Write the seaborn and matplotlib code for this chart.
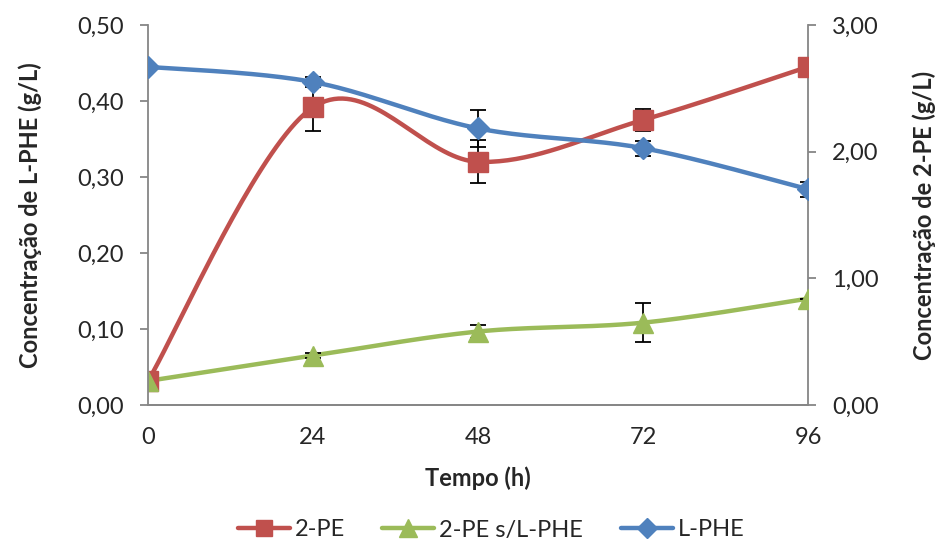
import numpy as np
import seaborn as sns
import matplotlib.pyplot as plt

# tempo (h)
tempo = [0, 24, 48, 72, 96]

# 2-PE (g/L) - eixo direito
pe = [0.19, 2.35, 1.92, 2.25, 2.67]
pe_err = [0.0, 0.19, 0.17, 0.09, 0.0]

# 2-PE sem L-PHE (g/L) - eixo direito
pe_sem = [0.19, 0.39, 0.58, 0.65, 0.84]
pe_sem_err = [0.0, 0.02, 0.05, 0.155, 0.0]

# L-PHE (g/L) - eixo esquerdo
lphe = [0.445, 0.425, 0.364, 0.338, 0.284]
lphe_err = [0.0, 0.006, 0.024, 0.010, 0.010]

left_ticks = [0.0, 0.1, 0.2, 0.3, 0.4, 0.5]
right_ticks = [0, 1, 2, 3]

RED = "#C0504D"
GREEN = "#9BBB59"
BLUE = "#4F81BD"
GREY = "#868686"


def smooth(x, y, n=40):
    # curva suavizada tipo Excel (Bezier / Catmull-Rom)
    p = np.column_stack([x, y]).astype(float)
    p = np.vstack([p[0], p, p[-1]])
    t = np.linspace(0, 1, n)[:, None]
    segs = []
    for i in range(1, len(p) - 2):
        p0, p1, p2, p3 = p[i - 1], p[i], p[i + 1], p[i + 2]
        c1 = p1 + (p2 - p0) / 6
        c2 = p2 - (p3 - p1) / 6
        segs.append((1 - t) ** 3 * p1 + 3 * (1 - t) ** 2 * t * c1
                    + 3 * (1 - t) * t ** 2 * c2 + t ** 3 * p2)
    s = np.vstack(segs)
    return s[:, 0], s[:, 1]


sns.set_style("white")
plt.rcParams['font.family'] = ['Lato', 'DejaVu Sans']

fig, ax = plt.subplots(figsize=(9.38, 5.45), dpi=100)
fig.subplots_adjust(left=148 / 938, right=808 / 938, top=1 - 25 / 545, bottom=1 - 405 / 545)
ax2 = ax.twinx()

# 2-PE
xs, ys = smooth(tempo, pe)
sns.lineplot(x=xs, y=ys, ax=ax2, color=RED, lw=3.2, sort=False, zorder=2)
ax2.errorbar(tempo, pe, yerr=pe_err, fmt="s", color=RED, ms=14, mec=RED,
             ecolor="black", elinewidth=1.3, capsize=5.5, capthick=1.3, zorder=3)

# 2-PE s/L-PHE
xs, ys = smooth(tempo, pe_sem)
sns.lineplot(x=xs, y=ys, ax=ax2, color=GREEN, lw=3.2, sort=False, zorder=2)
ax2.errorbar(tempo, pe_sem, yerr=pe_sem_err, fmt="^", color=GREEN, ms=15, mec=GREEN,
             ecolor="black", elinewidth=1.3, capsize=5.5, capthick=1.3, zorder=3)

# L-PHE
xs, ys = smooth(tempo, lphe)
sns.lineplot(x=xs, y=ys, ax=ax, color=BLUE, lw=3.2, sort=False, zorder=2)
ax.errorbar(tempo, lphe, yerr=lphe_err, fmt="D", color=BLUE, ms=11, mec=BLUE,
            ecolor="black", elinewidth=1.3, capsize=5.5, capthick=1.3, zorder=3)

# L-PHE por cima
ax.set_zorder(ax2.get_zorder() + 1)
ax.patch.set_visible(False)

ax.set_xlim(0, 96)
ax.set_xticks(tempo)
ax.set_ylim(0, 0.5)
ax.set_yticks(left_ticks)
ax.set_yticklabels([f"{v:.2f}".replace(".", ",") for v in left_ticks])
ax2.set_ylim(0, 3)
ax2.set_yticks(right_ticks)
ax2.set_yticklabels([f"{v:.2f}".replace(".", ",") for v in right_ticks])

for a in (ax, ax2):
    a.spines["top"].set_visible(False)
    for s in ("left", "right", "bottom"):
        a.spines[s].set_color(GREY)
        a.spines[s].set_linewidth(1.3)
    a.tick_params(axis="both", direction="out", length=5.5, width=1.3, color=GREY,
                  labelsize=17, pad=12)
ax2.spines["left"].set_visible(False)
ax.spines["right"].set_visible(False)
ax.tick_params(axis="x", pad=10)

ax.set_xlabel("Tempo (h)", fontsize=17, fontweight="bold")
ax.set_ylabel("Concentração de L-PHE (g/L)", fontsize=17, fontweight="bold")
ax2.set_ylabel("Concentração de 2-PE (g/L)", fontsize=17, fontweight="bold")
ax.xaxis.set_label_coords(0.5, (405 - 466) / 380)
ax.yaxis.set_label_coords((42 - 148) / 660, 0.5)
ax2.yaxis.set_label_coords((912 - 148) / 660, 0.5)

handles = [
    plt.Line2D([], [], color=RED, lw=3.2, marker="s", ms=12),
    plt.Line2D([], [], color=GREEN, lw=3.2, marker="^", ms=13),
    plt.Line2D([], [], color=BLUE, lw=3.2, marker="D", ms=10),
]
fig.legend(handles, ["2-PE", "2-PE s/L-PHE", "L-PHE"], loc="center",
           bbox_to_anchor=(491 / 938, 1 - 530 / 545), ncol=3, frameon=False,
           fontsize=17, handlelength=2.2, handletextpad=0.2, columnspacing=1.6)

fig.savefig("out.png", dpi=100)
